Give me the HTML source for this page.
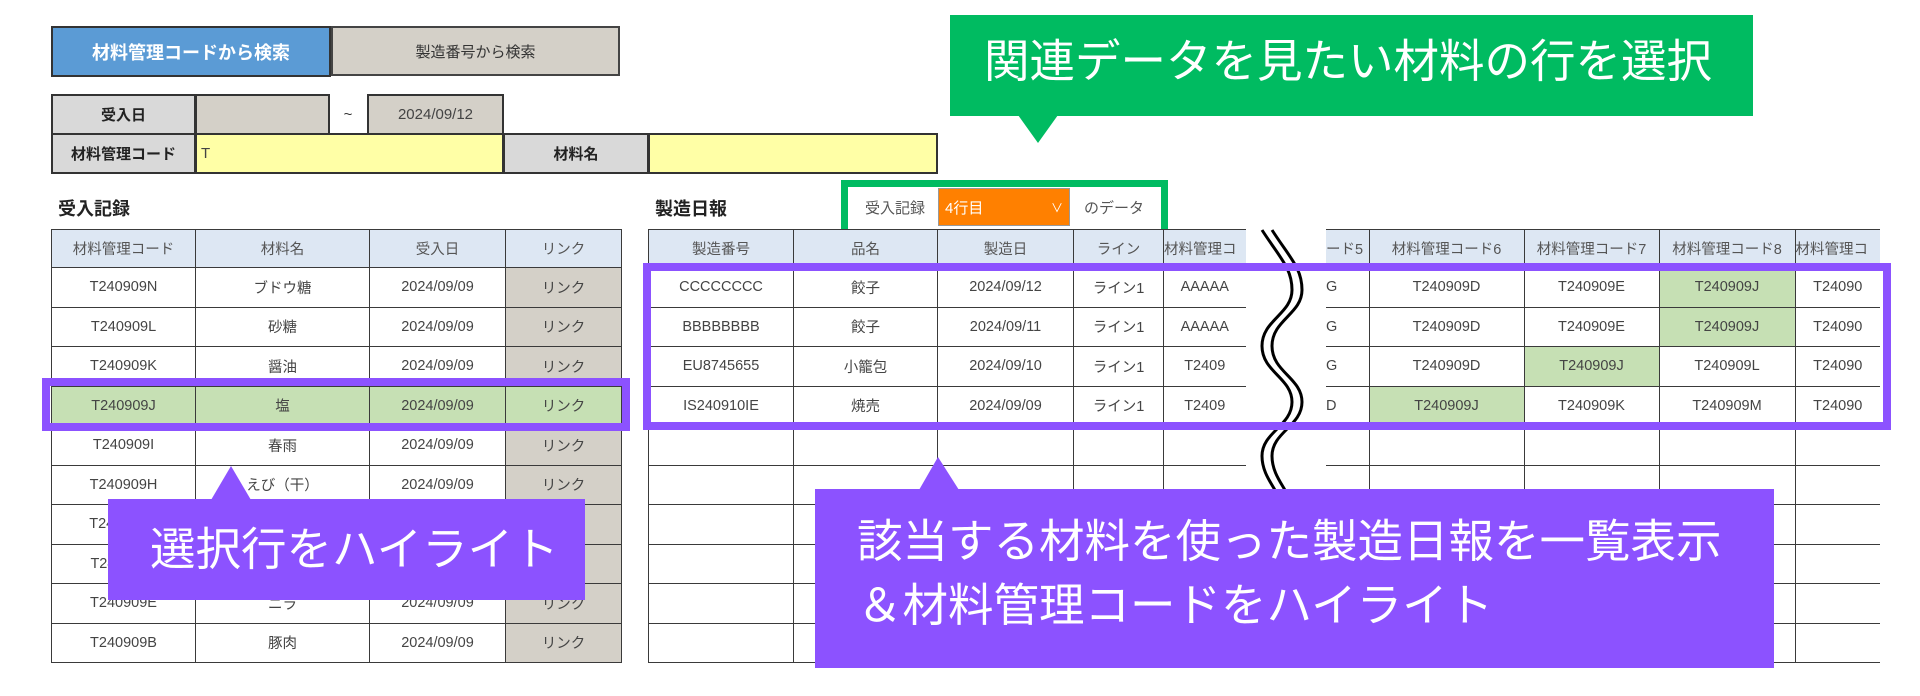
<!DOCTYPE html>
<html><head><meta charset="utf-8">
<style>
*{box-sizing:border-box;margin:0;padding:0}
body{width:1920px;height:696px;background:#fff;position:relative;overflow:hidden;font-family:"Liberation Sans","Noto Sans CJK JP",sans-serif;color:#404040}
.a{position:absolute}
.c{position:absolute;display:flex;align-items:center;justify-content:center;font-size:15px;white-space:nowrap;overflow:hidden}
table{position:absolute;border-collapse:collapse;table-layout:fixed}
td{border:1.5px solid #3a3a3a;text-align:center;font-size:14.5px;color:#444;white-space:nowrap;overflow:hidden;height:39.5px;padding:0}
tr.h td{background:#dde7f3;color:#555;height:38px}
td.l{background:#d4d0c8}
td.g{background:#c6e0b4}
</style></head><body>

<div class="c" style="left:51px;top:26px;width:280px;height:51px;background:#5b9bd5;border:2px solid #333;color:#fff;font-weight:bold;font-size:18px">材料管理コードから検索</div>
<div class="c" style="left:331px;top:26px;width:289px;height:50px;background:#d4d0c8;border:2px solid #444;color:#333;font-size:15px">製造番号から検索</div>

<div class="c" style="left:51px;top:94px;width:145px;height:41px;background:#d9d9d9;border:2px solid #333;font-weight:bold;color:#222">受入日</div>
<div class="c" style="left:195px;top:94px;width:135px;height:41px;background:#d4d0c8;border:2px solid #333"></div>
<div class="c" style="left:329px;top:94px;width:38px;height:41px;color:#333">~</div>
<div class="c" style="left:367px;top:94px;width:137px;height:41px;background:#d4d0c8;border:2px solid #333;color:#444">2024/09/12</div>
<div class="c" style="left:51px;top:133px;width:145px;height:41px;background:#d9d9d9;border:2px solid #333;font-weight:bold;color:#222">材料管理コード</div>
<div class="c" style="left:195px;top:133px;width:309px;height:41px;background:#ffffa6;border:2px solid #333;justify-content:flex-start;padding-left:4px;color:#444">T</div>
<div class="c" style="left:503px;top:133px;width:146px;height:41px;background:#d9d9d9;border:2px solid #333;font-weight:bold;color:#222">材料名</div>
<div class="c" style="left:648px;top:133px;width:290px;height:41px;background:#ffffa6;border:2px solid #333"></div>

<div class="a" style="left:58px;top:195px;font-size:18px;font-weight:bold;color:#222">受入記録</div>
<div class="a" style="left:655px;top:195px;font-size:18px;font-weight:bold;color:#222">製造日報</div>

<div class="a" style="left:841px;top:180px;width:327px;height:56px;border:7px solid #00bb61;background:#fff"></div>
<div class="c" style="left:855px;top:188px;width:80px;height:38px;color:#555">受入記録</div>
<div class="c" style="left:938px;top:188px;width:132px;height:38px;background:#ff8000;color:#fff;justify-content:flex-start;padding-left:6px;border:1px solid #999">4行目<span style="position:absolute;right:6px;font-size:12px">&#x2228;</span></div>
<div class="c" style="left:1074px;top:188px;width:80px;height:38px;color:#555">のデータ</div>

<table style="left:51px;top:229px;width:570px">
<colgroup><col style="width:144px"><col style="width:174px"><col style="width:136px"><col style="width:116px"></colgroup>
<tr class="h"><td>材料管理コード</td><td>材料名</td><td>受入日</td><td>リンク</td></tr>
<tr><td>T240909N</td><td>ブドウ糖</td><td>2024/09/09</td><td class="l">リンク</td></tr>
<tr><td>T240909L</td><td>砂糖</td><td>2024/09/09</td><td class="l">リンク</td></tr>
<tr><td>T240909K</td><td>醤油</td><td>2024/09/09</td><td class="l">リンク</td></tr>
<tr><td class="g">T240909J</td><td class="g">塩</td><td class="g">2024/09/09</td><td class="g">リンク</td></tr>
<tr><td>T240909I</td><td>春雨</td><td>2024/09/09</td><td class="l">リンク</td></tr>
<tr><td>T240909H</td><td>えび（干）</td><td>2024/09/09</td><td class="l">リンク</td></tr>
<tr><td>T240909G</td><td>キャベツ</td><td>2024/09/09</td><td class="l">リンク</td></tr>
<tr><td>T240909F</td><td>白菜</td><td>2024/09/09</td><td class="l">リンク</td></tr>
<tr><td>T240909E</td><td>ニラ</td><td>2024/09/09</td><td class="l">リンク</td></tr>
<tr><td>T240909B</td><td>豚肉</td><td>2024/09/09</td><td class="l">リンク</td></tr>
</table>

<table style="left:648px;top:229px;width:597px">
<colgroup><col style="width:145px"><col style="width:144px"><col style="width:136px"><col style="width:90px"><col style="width:82px"></colgroup>
<tr class="h"><td>製造番号</td><td>品名</td><td>製造日</td><td>ライン</td><td style="text-align:left;border-right:none">材料管理コ</td></tr>
<tr><td>CCCCCCCC</td><td>餃子</td><td>2024/09/12</td><td>ライン1</td><td style="border-right:none">AAAAA</td></tr>
<tr><td>BBBBBBBB</td><td>餃子</td><td>2024/09/11</td><td>ライン1</td><td style="border-right:none">AAAAA</td></tr>
<tr><td>EU8745655</td><td>小籠包</td><td>2024/09/10</td><td>ライン1</td><td style="border-right:none">T2409</td></tr>
<tr><td>IS240910IE</td><td>焼売</td><td>2024/09/09</td><td>ライン1</td><td style="border-right:none">T2409</td></tr>
<tr><td></td><td></td><td></td><td></td><td style="border-right:none"></td></tr>
<tr><td></td><td></td><td></td><td></td><td style="border-right:none"></td></tr>
<tr><td></td><td></td><td></td><td></td><td style="border-right:none"></td></tr>
<tr><td></td><td></td><td></td><td></td><td style="border-right:none"></td></tr>
<tr><td></td><td></td><td></td><td></td><td style="border-right:none"></td></tr>
<tr><td></td><td></td><td></td><td></td><td style="border-right:none"></td></tr>
</table>

<table style="left:1326px;top:229px;width:554px">
<colgroup><col style="width:43px"><col style="width:155px"><col style="width:135px"><col style="width:136px"><col style="width:85px"></colgroup>
<tr class="h"><td style="border-left:none;text-align:left">ード5</td><td>材料管理コード6</td><td>材料管理コード7</td><td>材料管理コード8</td><td style="border-right:none;text-align:left">材料管理コ</td></tr>
<tr><td style="border-left:none;text-align:left">G</td><td>T240909D</td><td>T240909E</td><td class="g">T240909J</td><td style="border-right:none">T24090</td></tr>
<tr><td style="border-left:none;text-align:left">G</td><td>T240909D</td><td>T240909E</td><td class="g">T240909J</td><td style="border-right:none">T24090</td></tr>
<tr><td style="border-left:none;text-align:left">G</td><td>T240909D</td><td class="g">T240909J</td><td>T240909L</td><td style="border-right:none">T24090</td></tr>
<tr><td style="border-left:none;text-align:left">D</td><td class="g">T240909J</td><td>T240909K</td><td>T240909M</td><td style="border-right:none">T24090</td></tr>
<tr><td style="border-left:none"></td><td></td><td></td><td></td><td style="border-right:none"></td></tr>
<tr><td style="border-left:none"></td><td></td><td></td><td></td><td style="border-right:none"></td></tr>
<tr><td style="border-left:none"></td><td></td><td></td><td></td><td style="border-right:none"></td></tr>
<tr><td style="border-left:none"></td><td></td><td></td><td></td><td style="border-right:none"></td></tr>
<tr><td style="border-left:none"></td><td></td><td></td><td></td><td style="border-right:none"></td></tr>
<tr><td style="border-left:none"></td><td></td><td></td><td></td><td style="border-right:none"></td></tr>
</table>

<svg class="a" style="left:1240px;top:228px" width="90" height="270">
<path d="M22 2 C40 30,52 40,52 62 C52 86,22 92,22 118 C22 144,52 150,52 174 C52 198,22 204,22 228 C22 246,34 258,38 268" fill="none" stroke="#000" stroke-width="3"/>
<path d="M32 2 C50 30,62 40,62 62 C62 86,32 92,32 118 C32 144,62 150,62 174 C62 198,32 204,32 228 C32 246,44 258,48 268" fill="none" stroke="#000" stroke-width="3"/>
</svg>

<div class="a" style="left:42px;top:378px;width:588px;height:53px;border:8px solid #8c52ff"></div>
<div class="a" style="left:643px;top:263px;width:1248px;height:167px;border:8px solid #8c52ff"></div>

<div class="a" style="left:950px;top:15px;width:803px;height:101px;background:#00bb61"></div>
<svg class="a" style="left:1016px;top:115px" width="44" height="30"><polygon points="2,0 42,0 22,28" fill="#00bb61"/></svg>
<div class="a" style="left:984px;top:34px;font-size:45.5px;color:#fff;white-space:nowrap;line-height:56px">関連データを見たい材料の行を選択</div>

<svg class="a" style="left:209px;top:466px" width="44" height="35"><polygon points="2,34 42,34 22,0" fill="#8c52ff"/></svg>
<div class="a" style="left:108px;top:499px;width:477px;height:101px;background:#8c52ff"></div>
<div class="a" style="left:150px;top:522px;font-size:45.5px;color:#fff;white-space:nowrap;line-height:56px">選択行をハイライト</div>

<svg class="a" style="left:917px;top:457px" width="44" height="34"><polygon points="2,33 42,33 21,0" fill="#8c52ff"/></svg>
<div class="a" style="left:815px;top:489px;width:959px;height:179px;background:#8c52ff"></div>
<div class="a" style="left:857px;top:510px;font-size:45.5px;color:#fff;white-space:nowrap;line-height:64px">該当する材料を使った製造日報を一覧表示<br>＆材料管理コードをハイライト</div>

</body></html>
